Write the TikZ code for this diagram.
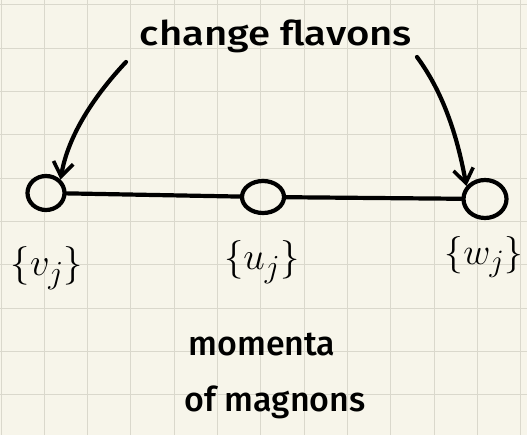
\documentclass[tikz,border=0pt]{standalone}
\usepackage{fontspec}
\setsansfont{Fira Sans Medium}
\usetikzlibrary{arrows.meta,shapes.geometric}
\definecolor{paper}{HTML}{F7F5EA}
\definecolor{gridline}{HTML}{DAD8CC}
\begin{document}
\begin{tikzpicture}[x=1pt,y=-1pt,
  pen/.style={line width=4.2pt, line cap=round, line join=round},
  dot/.style={ellipse, draw, line width=4.2pt, inner sep=0pt},
  word/.style={font=\sffamily\fontsize{34}{40}\selectfont, inner sep=0pt},
  setlabel/.style={inner sep=0pt},
  barb/.style={-{Straight Barb[length=14pt,width=20pt,line width=3.6pt]}}]
% paper with square grid
\fill[paper] (0,0) rectangle (527,435);
\useasboundingbox (0,0) rectangle (527,435);
\foreach \i in {0,...,12} \draw[gridline, line width=1pt] ({1+43.33*\i},0) -- ++(0,435);
\foreach \j in {0,...,10} \draw[gridline, line width=1pt] (0,{5+43.33*\j}) -- ++(527,0);
% three vertices on a line
\node[dot, minimum width=37pt, minimum height=34pt] (v) at (46,193) {};
\node[dot, minimum width=42pt, minimum height=32pt] (u) at (263,197) {};
\node[dot, minimum width=43pt, minimum height=38pt] (w) at (485,199) {};
\draw[pen] (v) -- (u);
\draw[pen] (u) -- (w);
% labels
\node[word] (title) at (276,36) {\scalebox{1.18}[1]{change flavons}};
\node[setlabel] (lv) at (47,268) {\scalebox{1.55}{\Huge$\{v_j\}$}};
\node[setlabel] (lu) at (262,262) {\scalebox{1.55}{\Huge$\{u_j\}$}};
\node[setlabel] (lw) at (484,257) {\scalebox{1.5}{\Huge$\{w_j\}$}};
\node[word] (m1) at (262,345) {momenta};
\node[word] (m2) at (275,402) {of magnons};
% arrows from the title down to the outer vertices
\coordinate (s1) at (126,62);
\coordinate (s2) at (417,57);
\draw[pen,barb] (s1) .. controls (95,95) and (68,135) .. (v.north east);
\draw[pen,barb] (s2) .. controls (445,95) and (458,140) .. (w.145);
\end{tikzpicture}
\end{document}
